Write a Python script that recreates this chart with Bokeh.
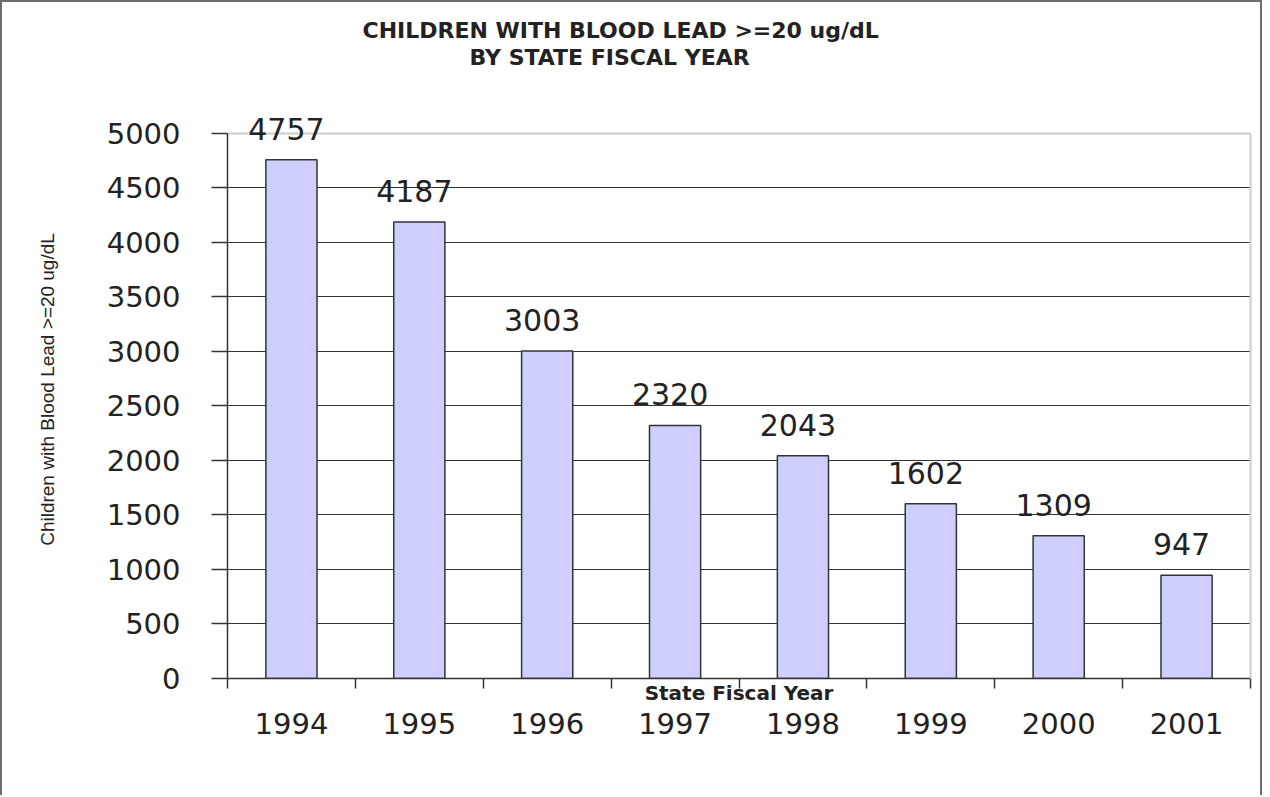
from bokeh.plotting import figure
from bokeh.models import (ColumnDataSource, Label, LinearAxis, FixedTicker, Grid,
                          Range1d, Title, SingleIntervalTicker)
from bokeh.embed import file_html
from bokeh.resources import INLINE

# ---- data ----
years = ["1994", "1995", "1996", "1997", "1998", "1999", "2000", "2001"]
children = [4757, 4187, 3003, 2320, 2043, 1602, 1309, 947]
title_line1 = "CHILDREN WITH BLOOD LEAD >=20 ug/dL"
title_line2 = "BY STATE FISCAL YEAR"
y_label = "Children with Blood Lead >=20 ug/dL"
x_label = "State Fiscal Year"
y_max = 5000

n = len(years)
centers = [i + 0.5 for i in range(n)]
src = ColumnDataSource(dict(x=centers, y=children, year=years))

NUM_FONT = "DejaVu Sans"
BORDER = "2px solid #6e6e6e"

# headroom above the 5000 line so that the value labels are not clipped
p = figure(width=1262, height=795, output_backend="svg", toolbar_location=None,
           x_range=Range1d(0, n), y_range=Range1d(0, 5300),
           min_border_left=225, min_border_right=14, min_border_top=98,
           min_border_bottom=119, x_axis_location=None,
           styles={"border-left": BORDER, "border-top": BORDER, "border-right": BORDER})
p.outline_line_color = None

# Titles (outermost first)
p.title.text = title_line1
p.title.align = "left"
p.title.offset = 135
p.title.standoff = 0
p.title.text_font = NUM_FONT
p.title.text_font_size = "22px"
p.title.text_font_style = "bold"
p.title.text_color = "#222222"
t2 = Title(text=title_line2, align="left", offset=242, text_font=NUM_FONT,
           text_font_size="22px", text_font_style="bold", text_color="#222222",
           standoff=0)
spacer = Title(text=" ", text_font_size="1px", standoff=28)
p.add_layout(spacer, "above")
p.add_layout(t2, "above")

# Bars
p.vbar(x="x", top="y", width=0.4, bottom=0, source=src,
       fill_color="#cfcfff", line_color="#333333", line_width=1.5)

# value labels above bars
for xc, v in zip(centers, children):
    p.add_layout(Label(x=xc, y=v, text=str(v), x_offset=-5, y_offset=31,
                       text_align="center", text_baseline="alphabetic",
                       text_font=NUM_FONT, text_font_size="30px",
                       text_color="#222222"))

# grid
p.xgrid.grid_line_color = None
p.ygrid.ticker = FixedTicker(ticks=list(range(500, y_max, 500)))
p.ygrid.grid_line_color = "#333333"
p.ygrid.grid_line_width = 1.2
# light plot-area border at the top (5000) and on the right
top_grid = Grid(dimension=1, ticker=FixedTicker(ticks=[y_max]),
                grid_line_color="#cccccc", grid_line_width=2)
p.add_layout(top_grid)
right_axis = LinearAxis(bounds=(0, y_max), ticker=FixedTicker(ticks=[]),
                        axis_line_color="#cccccc", axis_line_width=2,
                        major_tick_line_color=None, minor_tick_line_color=None,
                        major_label_text_font_size="11px")
p.add_layout(right_axis, "right")

# y axis
ya = p.yaxis[0]
ya.bounds = (0, y_max)
ya.ticker = SingleIntervalTicker(interval=500)
ya.major_tick_in = 0
ya.major_tick_out = 16
ya.minor_tick_line_color = None
ya.axis_line_color = "#333333"
ya.axis_line_width = 1.5
ya.major_tick_line_color = "#333333"
ya.major_tick_line_width = 1.5
ya.major_label_standoff = 31
ya.major_label_text_font = NUM_FONT
ya.major_label_text_font_size = "29px"
ya.major_label_text_color = "#222222"
ya.axis_label = y_label
ya.axis_label_text_font = "Liberation Sans"
ya.axis_label_text_font_size = "19px"
ya.axis_label_text_font_style = "normal"
ya.axis_label_text_color = "#222222"
ya.axis_label_standoff = 46

# x axis: tick marks between categories + axis label
edges = list(range(0, n + 1))
xa_ticks = LinearAxis(ticker=FixedTicker(ticks=edges),
                      major_label_overrides={e: "" for e in edges},
                      major_tick_in=0, major_tick_out=10,
                      minor_tick_line_color=None,
                      axis_line_color="#333333", axis_line_width=1.5,
                      major_tick_line_color="#333333", major_tick_line_width=1.5,
                      major_label_text_font_size="8px", major_label_standoff=0,
                      axis_label=x_label, axis_label_standoff=-8,
                      axis_label_text_font=NUM_FONT, axis_label_text_font_size="20px",
                      axis_label_text_font_style="bold", axis_label_text_color="#222222")
p.add_layout(xa_ticks, "below")

# x axis: year labels centred under bars
xa_labels = LinearAxis(ticker=FixedTicker(ticks=centers),
                       major_label_overrides={c: y for c, y in zip(centers, years)},
                       major_tick_in=0, major_tick_out=0,
                       minor_tick_line_color=None, axis_line_color=None,
                       major_tick_line_color=None, major_label_standoff=5,
                       major_label_text_font=NUM_FONT, major_label_text_font_size="29px",
                       major_label_text_color="#222222")
p.add_layout(xa_labels, "below")

open("out.html", "w").write(file_html(p, INLINE))
